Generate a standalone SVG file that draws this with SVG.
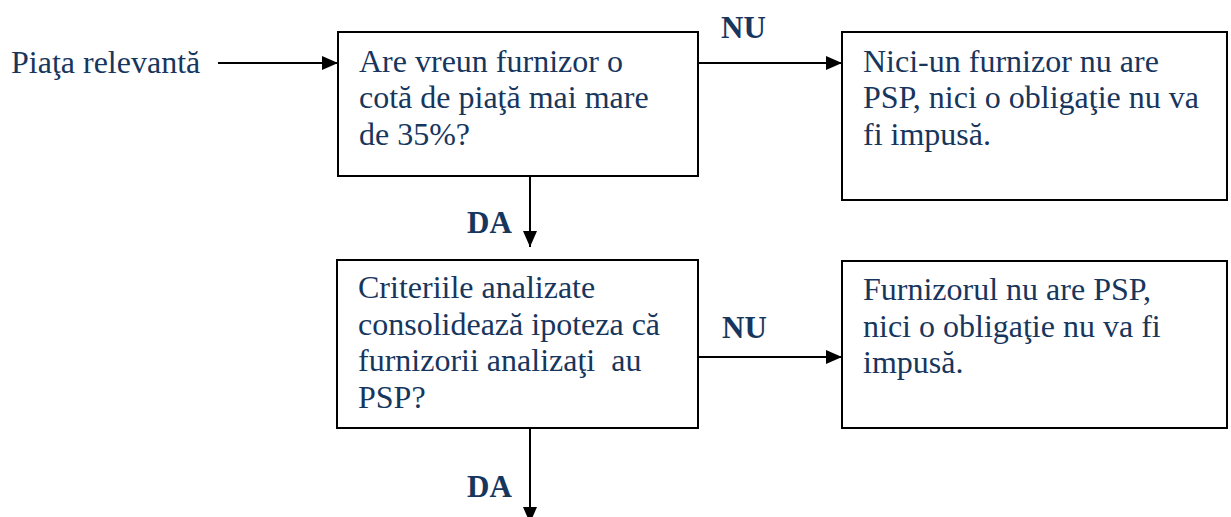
<svg xmlns="http://www.w3.org/2000/svg" width="1231" height="517" viewBox="0 0 1231 517">
<style>
.t{font-family:"Liberation Serif","Times New Roman",serif;font-size:32px;fill:#17365D;white-space:pre}
.b{font-family:"Liberation Serif","Times New Roman",serif;font-size:31px;font-weight:bold;fill:#17365D}
.box{fill:#fff;stroke:#000;stroke-width:2}
.c{stroke:#000;stroke-width:2;fill:none;marker-end:url(#ah)}
</style>
<defs>
<marker id="ah" markerUnits="userSpaceOnUse" markerWidth="16" markerHeight="14" refX="16" refY="7" orient="auto">
<path d="M0,0 L16,7 L0,14 z" fill="#000"/>
</marker>
</defs>
<rect width="1231" height="517" fill="#fff"/>
<g id="connectors">
<line class="c" x1="218" y1="63" x2="338" y2="63"/>
<line class="c" x1="698" y1="63" x2="842" y2="63"/>
<line class="c" x1="530" y1="176" x2="530" y2="247"/>
<line class="c" x1="698" y1="357" x2="842" y2="357"/>
<line class="c" x1="530" y1="428" x2="530" y2="523"/>
<text class="b" x="721" y="38">NU</text>
<text class="b" x="467" y="233">DA</text>
<text class="b" x="722" y="338">NU</text>
<text class="b" x="467" y="497">DA</text>
</g>
<g id="start">
<text class="t" x="11" y="73">Piaţa relevantă</text>
</g>
<g id="q1">
<rect class="box" x="338" y="32" width="360" height="144"/>
<text class="t" x="359" y="72">Are vreun furnizor o</text>
<text class="t" x="359" y="108">cotă de piaţă mai mare</text>
<text class="t" x="359" y="145">de 35%?</text>
</g>
<g id="r1">
<rect class="box" x="842" y="32" width="385" height="168"/>
<text class="t" x="863" y="72">Nici-un furnizor nu are</text>
<text class="t" x="863" y="108">PSP, nici o obligaţie nu va</text>
<text class="t" x="863" y="145">fi impusă.</text>
</g>
<g id="q2">
<rect class="box" x="337" y="260" width="361" height="168"/>
<text class="t" x="358" y="298">Criteriile analizate</text>
<text class="t" x="358" y="335">consolidează ipoteza că</text>
<text class="t" x="358" y="371">furnizorii analizaţi  au</text>
<text class="t" x="358" y="408">PSP?</text>
</g>
<g id="r2">
<rect class="box" x="842" y="261" width="385" height="167"/>
<text class="t" x="863" y="300">Furnizorul nu are PSP,</text>
<text class="t" x="863" y="337">nici o obligaţie nu va fi</text>
<text class="t" x="863" y="373">impusă.</text>
</g>
</svg>
